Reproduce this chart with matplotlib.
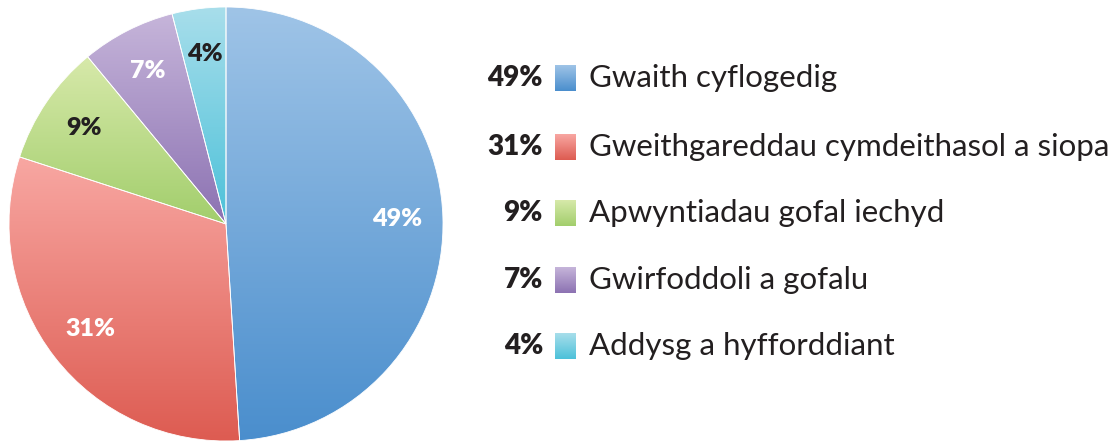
import numpy as np
import matplotlib
matplotlib.use("Agg")
import matplotlib.pyplot as plt
from matplotlib.colors import LinearSegmentedColormap

plt.rcParams['font.family'] = ['Lato', 'DejaVu Sans']

# data
labels = ["Gwaith cyflogedig", "Gweithgareddau cymdeithasol a siopa",
          "Apwyntiadau gofal iechyd", "Gwirfoddoli a gofalu",
          "Addysg a hyfforddiant"]
values = [49, 31, 9, 7, 4]
top_colors = ["#9fc4e7", "#f8a7a2", "#d7e9aa", "#c6b5da", "#a8deeb"]
bot_colors = ["#4a8ecd", "#dd5b51", "#a2ce6c", "#8c72b2", "#4cc1d9"]
pct_colors = ["white", "white", "#231f20", "white", "#231f20"]

W, H = 1116, 446
fig = plt.figure(figsize=(W / 100, H / 100), dpi=100)

# pie axes: centre (226, 224) px, radius 217 px
half = 220 / 217
ax = fig.add_axes([(226 - 220) / W, (H - 224 - 220) / H, 440 / W, 440 / H])
wedges, texts, autotexts = ax.pie(
    values, startangle=90, counterclock=False,
    autopct=lambda p: "%d%%" % round(p), pctdistance=0.79,
    wedgeprops=dict(facecolor="none", edgecolor="white", linewidth=0.6))
ax.set_aspect("equal")
ax.axis("off")

grad = np.linspace(0, 1, 256).reshape(-1, 1)
for w, c0, c1 in zip(wedges, top_colors, bot_colors):
    cmap = LinearSegmentedColormap.from_list("g", [c0, c1])
    v = w.get_path().vertices
    x0, x1 = v[:, 0].min(), v[:, 0].max()
    y0, y1 = v[:, 1].min(), v[:, 1].max()
    im = ax.imshow(grad, cmap=cmap, extent=[x0, x1, y0, y1], origin="upper",
                   aspect="auto", zorder=0)
    im.set_clip_path(w)
ax.set_xlim(-half, half)
ax.set_ylim(-half, half)

for t, c in zip(autotexts, pct_colors):
    t.set_color(c)
    t.set_fontsize(18)
    t.set_fontweight("heavy")
    t.set_zorder(5)

# legend
lax = fig.add_axes([0, 0, 1, 1])
lax.axis("off")
rows = [78, 147, 213, 280, 346]
for i, yc in enumerate(rows):
    lax.text(543, yc, "%d%%" % values[i], ha="right", va="center",
             fontsize=20, fontweight="heavy", color="#231f20")
    cmap = LinearSegmentedColormap.from_list("g", [top_colors[i], bot_colors[i]])
    lax.imshow(grad, cmap=cmap, extent=[555, 576, yc + 13, yc - 13],
               origin="upper", aspect="auto")
    lax.text(589, yc, labels[i], ha="left", va="center",
             fontsize=22.5, color="#231f20")
lax.set_xlim(0, W)
lax.set_ylim(H, 0)

fig.savefig("out.png", dpi=100)
